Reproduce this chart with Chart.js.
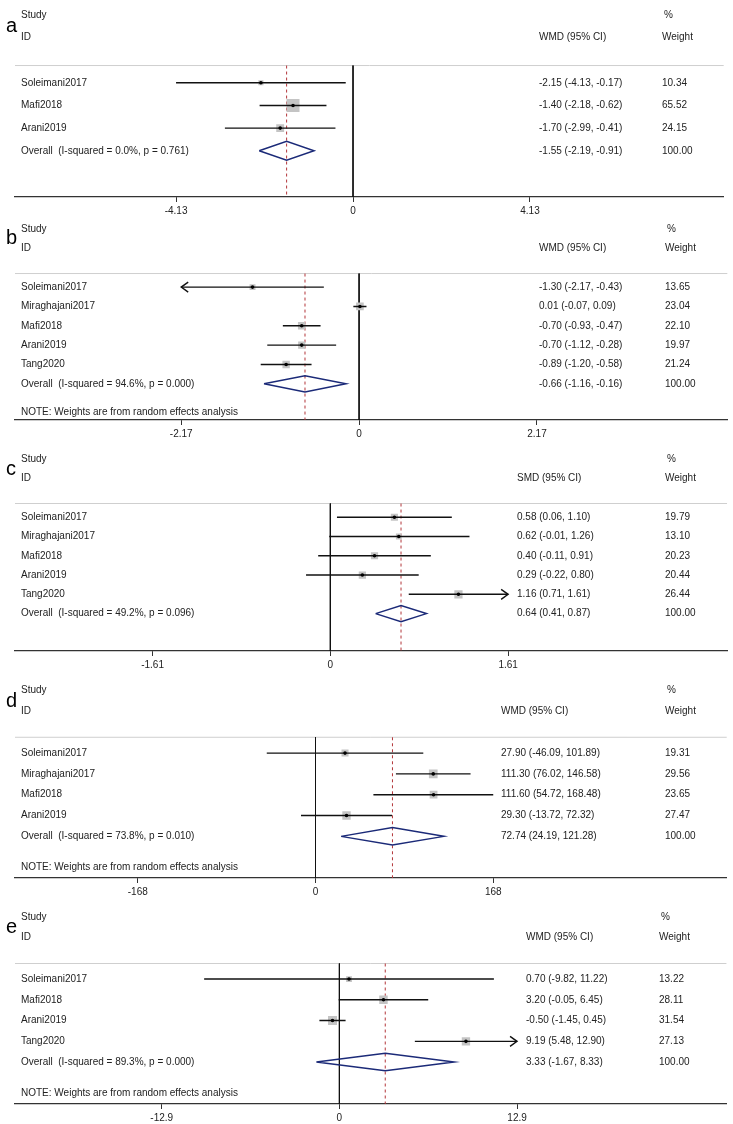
<!DOCTYPE html>
<html>
<head>
<meta charset="utf-8">
<title>Forest plots a-e</title>
<script src="https://cdn.jsdelivr.net/npm/chart.js@4.4.1/dist/chart.umd.min.js"></script>
<style>
  html, body { margin: 0; padding: 0; background: #fff; overflow: hidden; }
  #wrap { position: relative; width: 733px; height: 1124px; }
  #wrap canvas { position: absolute; left: 0; }
</style>
</head>
<body>
<div id="wrap"></div>
<script>
// ===== panel a =====
const aStudies = ['Soleimani2017', 'Mafi2018', 'Arani2019'];
const aEst = [-2.15, -1.40, -1.70];
const aLow = [-4.13, -2.18, -2.99];
const aHigh = [-0.17, -0.62, -0.41];
const aWeight = [10.34, 65.52, 24.15];
const aArrows = ['', '', ''];
const aOverall = [-1.55, -2.19, -0.91];   // est, low, high
const aHet = [0.0, 0.761];                // I-squared, p
const aTicks = [-4.13, 0, 4.13];
const aTickLabels = ['-4.13', '0', '4.13'];

// ===== panel b =====
const bStudies = ['Soleimani2017', 'Miraghajani2017', 'Mafi2018', 'Arani2019', 'Tang2020'];
const bEst = [-1.30, 0.01, -0.70, -0.70, -0.89];
const bLow = [-2.17, -0.07, -0.93, -1.12, -1.20];
const bHigh = [-0.43, 0.09, -0.47, -0.28, -0.58];
const bWeight = [13.65, 23.04, 22.10, 19.97, 21.24];
const bArrows = ['L', '', '', '', ''];
const bOverall = [-0.66, -1.16, -0.16];
const bHet = [94.6, 0.000];
const bTicks = [-2.17, 0, 2.17];
const bTickLabels = ['-2.17', '0', '2.17'];

// ===== panel c =====
const cStudies = ['Soleimani2017', 'Miraghajani2017', 'Mafi2018', 'Arani2019', 'Tang2020'];
const cEst = [0.58, 0.62, 0.40, 0.29, 1.16];
const cLow = [0.06, -0.01, -0.11, -0.22, 0.71];
const cHigh = [1.10, 1.26, 0.91, 0.80, 1.61];
const cWeight = [19.79, 13.10, 20.23, 20.44, 26.44];
const cArrows = ['', '', '', '', 'R'];
const cOverall = [0.64, 0.41, 0.87];
const cHet = [49.2, 0.096];
const cTicks = [-1.61, 0, 1.61];
const cTickLabels = ['-1.61', '0', '1.61'];

// ===== panel d =====
const dStudies = ['Soleimani2017', 'Miraghajani2017', 'Mafi2018', 'Arani2019'];
const dEst = [27.90, 111.30, 111.60, 29.30];
const dLow = [-46.09, 76.02, 54.72, -13.72];
const dHigh = [101.89, 146.58, 168.48, 72.32];
const dWeight = [19.31, 29.56, 23.65, 27.47];
const dArrows = ['', '', '', ''];
const dOverall = [72.74, 24.19, 121.28];
const dHet = [73.8, 0.010];
const dTicks = [-168, 0, 168];
const dTickLabels = ['-168', '0', '168'];

// ===== panel e =====
const eStudies = ['Soleimani2017', 'Mafi2018', 'Arani2019', 'Tang2020'];
const eEst = [0.70, 3.20, -0.50, 9.19];
const eLow = [-9.82, -0.05, -1.45, 5.48];
const eHigh = [11.22, 6.45, 0.45, 12.90];
const eWeight = [13.22, 28.11, 31.54, 27.13];
const eArrows = ['', '', '', 'R'];
const eOverall = [3.33, -1.67, 8.33];
const eHet = [89.3, 0.000];
const eTicks = [-12.9, 0, 12.9];
const eTickLabels = ['-12.9', '0', '12.9'];

const NOTE = 'NOTE: Weights are from random effects analysis';
const FONT = '"Liberation Sans", Arial, Helvetica, sans-serif';

// page geometry of each panel (pixels / row units)
const panels = [
  { letter: 'a', measure: 'WMD', studies: aStudies, est: aEst, low: aLow, high: aHigh, weight: aWeight, arrows: aArrows,
    overall: aOverall, het: aHet, ticks: aTicks, tickLabels: aTickLabels, note: false,
    sepY: 59.3, rowH: 23.7, sepRow: 0.24, axisRow: 6.04, zeroX: 355, ciX: 539, wX: 662 },
  { letter: 'b', measure: 'WMD', studies: bStudies, est: bEst, low: bLow, high: bHigh, weight: bWeight, arrows: bArrows,
    overall: bOverall, het: bHet, ticks: bTicks, tickLabels: bTickLabels, note: true, noteRow: 7.47,
    sepY: 269.3, rowH: 19.9, sepRow: 0.30, axisRow: 7.87, zeroX: 359.3, ciX: 539, wX: 665 },
  { letter: 'c', measure: 'SMD', studies: cStudies, est: cEst, low: cLow, high: cHigh, weight: cWeight, arrows: cArrows,
    overall: cOverall, het: cHet, ticks: cTicks, tickLabels: cTickLabels, note: false,
    sepY: 499.3, rowH: 19.8, sepRow: 0.29, axisRow: 7.94, zeroX: 330.7, ciX: 517, wX: 665 },
  { letter: 'd', measure: 'WMD', studies: dStudies, est: dEst, low: dLow, high: dHigh, weight: dWeight, arrows: dArrows,
    overall: dOverall, het: dHet, ticks: dTicks, tickLabels: dTickLabels, note: true, noteRow: 6.47,
    sepY: 732.7, rowH: 21.5, sepRow: 0.24, axisRow: 7.0, zeroX: 316, ciX: 501, wX: 665 },
  { letter: 'e', measure: 'WMD', studies: eStudies, est: eEst, low: eLow, high: eHigh, weight: eWeight, arrows: eArrows,
    overall: eOverall, het: eHet, ticks: eTicks, tickLabels: eTickLabels, note: true, noteRow: 6.48,
    sepY: 959.3, rowH: 21.4, sepRow: 0.25, axisRow: 7.02, zeroX: 340, ciX: 526, wX: 659 }
];

const LEFT = 15, RIGHT = 728, STEP = 178, AXIS_H = 24, TOP_ROW = -2.6;

function fmtCI(est, lo, hi) {
  return est.toFixed(2) + ' (' + lo.toFixed(2) + ', ' + hi.toFixed(2) + ')';
}

function line(points, color, width, order, dash) {
  return {
    data: points, showLine: true, pointRadius: 0, borderColor: color,
    borderWidth: width, borderDash: dash || [], tension: 0, order: order
  };
}

function buildDatasets(P, xMin, xMax) {
  const T = P.ticks[P.ticks.length - 1];
  const n = P.studies.length;
  const ov = n + 1;
  const ds = [];

  // header separator, zero line, dashed overall line
  ds.push(line([{ x: xMin, y: P.sepRow }, { x: xMax, y: P.sepRow }], '#cfcfcf', 1, 9));
  ds.push(line([{ x: 0, y: P.sepRow }, { x: 0, y: P.axisRow }], '#111', 1, 8));
  ds.push(line([{ x: P.overall[0], y: P.sepRow }, { x: P.overall[0], y: P.axisRow }], '#b3363a', 1, 7, [3, 3]));

  // weight boxes
  ds.push({
    data: P.est.map((v, i) => ({ x: v, y: i + 1 })),
    pointStyle: 'rect',
    pointRadius: P.weight.map(w => 1.6 * Math.sqrt(w) / Math.SQRT2),
    pointBackgroundColor: '#c4c4c4', pointBorderWidth: 0, order: 6
  });

  // confidence intervals (clipped at the outer ticks)
  P.est.forEach((v, i) => {
    ds.push(line([{ x: Math.max(P.low[i], -T), y: i + 1 }, { x: Math.min(P.high[i], T), y: i + 1 }], '#111', 1.4, 5));
  });

  // overall diamond
  const [oe, ol, oh] = P.overall;
  ds.push(line([{ x: ol, y: ov }, { x: oe, y: ov - 0.42 }, { x: oh, y: ov }, { x: oe, y: ov + 0.42 }, { x: ol, y: ov }],
    '#1b2a78', 1.5, 4));

  // point estimates
  ds.push({
    data: P.est.map((v, i) => ({ x: v, y: i + 1 })),
    pointStyle: 'circle', pointRadius: 1.8,
    pointBackgroundColor: '#000', pointBorderWidth: 0, order: 1
  });
  return ds;
}

function tablePlugin(P) {
  return {
    id: 'table' + P.letter,
    afterDatasetsDraw(chart) {
      const ctx = chart.ctx;
      const xs = chart.scales.x, ys = chart.scales.y;
      const yp = v => ys.getPixelForValue(v);
      const T = P.ticks[P.ticks.length - 1];
      const n = P.studies.length;
      ctx.save();

      // arrows for truncated intervals
      ctx.strokeStyle = '#111';
      ctx.lineWidth = 1.4;
      P.arrows.forEach((a, i) => {
        if (!a) return;
        const dir = a === 'L' ? -1 : 1;
        const tx = xs.getPixelForValue(dir * T), ty = yp(i + 1);
        ctx.beginPath();
        ctx.moveTo(tx - dir * 7, ty - 5);
        ctx.lineTo(tx, ty);
        ctx.lineTo(tx - dir * 7, ty + 5);
        ctx.stroke();
      });

      ctx.fillStyle = '#000';
      ctx.textBaseline = 'middle';
      ctx.textAlign = 'left';
      ctx.font = '20px ' + FONT;
      ctx.fillText(P.letter, 6, yp(-1.5));

      ctx.fillStyle = '#222';
      ctx.font = '10px ' + FONT;
      ctx.fillText('Study', 21, yp(-2));
      ctx.fillText('ID', 21, yp(-1));
      ctx.fillText(P.measure + ' (95% CI)', P.ciX, yp(-1));
      ctx.fillText('%', P.wX + 2, yp(-2));
      ctx.fillText('Weight', P.wX, yp(-1));

      P.studies.forEach((s, i) => {
        ctx.fillText(s, 21, yp(i + 1));
        ctx.fillText(fmtCI(P.est[i], P.low[i], P.high[i]), P.ciX, yp(i + 1));
        ctx.fillText(P.weight[i].toFixed(2), P.wX, yp(i + 1));
      });
      const ov = n + 1;
      ctx.fillText('Overall  (I-squared = ' + P.het[0].toFixed(1) + '%, p = ' + P.het[1].toFixed(3) + ')', 21, yp(ov));
      ctx.fillText(fmtCI(P.overall[0], P.overall[1], P.overall[2]), P.ciX, yp(ov));
      ctx.fillText((100).toFixed(2), P.wX, yp(ov));
      if (P.note) ctx.fillText(NOTE, 21, yp(P.noteRow));
      ctx.restore();
    }
  };
}

const wrap = document.getElementById('wrap');

panels.forEach(P => {
  const T = P.ticks[P.ticks.length - 1];
  const xMin = -(P.zeroX - LEFT) / STEP * T;
  const xMax = (RIGHT - P.zeroX) / STEP * T;
  const axisY = P.sepY + (P.axisRow - P.sepRow) * P.rowH;
  const areaH = (P.axisRow - TOP_ROW) * P.rowH;
  const top = axisY - areaH;

  const canvas = document.createElement('canvas');
  canvas.width = 733;
  canvas.height = Math.round(areaH + AXIS_H);
  canvas.style.top = Math.round(top) + 'px';
  wrap.appendChild(canvas);

  new Chart(canvas.getContext('2d'), {
    type: 'scatter',
    data: { datasets: buildDatasets(P, xMin, xMax) },
    options: {
      responsive: false,
      animation: false,
      events: [],
      layout: { padding: { left: LEFT, right: 733 - RIGHT, top: 0, bottom: 0 } },
      plugins: { legend: { display: false }, tooltip: { enabled: false } },
      scales: {
        x: {
          type: 'linear',
          position: 'bottom',
          min: xMin,
          max: xMax,
          afterBuildTicks: axis => { axis.ticks = P.ticks.map(v => ({ value: v })); },
          afterFit: axis => { axis.height = AXIS_H; },
          ticks: {
            autoSkip: false, maxRotation: 0, padding: 3, color: '#222',
            font: { family: FONT, size: 10 },
            callback: (v, i) => P.tickLabels[i]
          },
          grid: { display: true, drawOnChartArea: false, drawTicks: true, tickLength: 5, color: '#333', lineWidth: 1 },
          border: { display: true, color: '#333', width: 1.2 }
        },
        y: { type: 'linear', display: false, reverse: true, min: TOP_ROW, max: P.axisRow }
      }
    },
    plugins: [tablePlugin(P)]
  });
});
</script>
</body>
</html>
